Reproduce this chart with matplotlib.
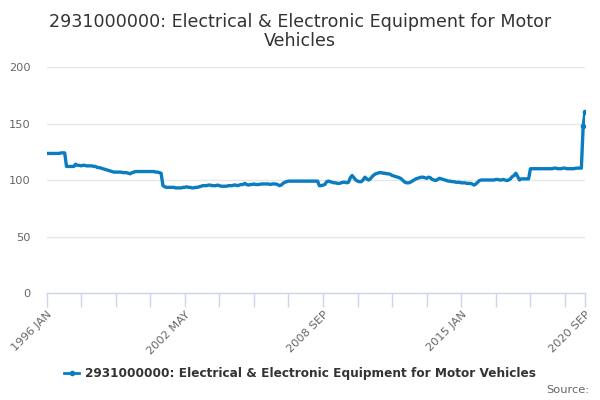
import matplotlib
matplotlib.use("Agg")
import matplotlib.pyplot as plt
from matplotlib.lines import Line2D

title_line1 = "2931000000: Electrical & Electronic Equipment for Motor"
title_line2 = "Vehicles"
series_name = "2931000000: Electrical & Electronic Equipment for Motor Vehicles"
start_year = 1996
month_names = ["JAN", "FEB", "MAR", "APR", "MAY", "JUN", "JUL", "AUG", "SEP", "OCT", "NOV", "DEC"]

values = [
    # 1996
    123.5, 123.5, 123.5, 123.5, 123.5, 123.5, 123.5, 123.5, 124, 124, 124, 112,
    # 1997
    112, 112, 112, 112, 114, 113, 113, 112.5, 113, 113, 112.5, 112.5,
    # 1998
    112.5, 112.5, 112, 112, 111, 111, 110.5, 110, 109.5, 109, 108.5, 108,
    # 1999
    107.5, 107, 107, 107, 107, 107, 106.5, 106.5, 106.5, 106, 105.5, 106.5,
    # 2000
    107, 107.5, 107.5, 107.5, 107.5, 107.5, 107.5, 107.5, 107.5, 107.5, 107.5, 107.5,
    # 2001
    107, 107, 106.5, 106, 95, 94, 93.5, 93.5, 93.5, 93.5, 93.5, 93,
    # 2002
    93, 93, 93, 93.5, 93.5, 94, 93.5, 93.5, 93, 93, 93.5, 93.5,
    # 2003
    94, 94.5, 95, 95, 95, 95.5, 95.5, 95, 95, 95, 95.5, 95,
    # 2004
    94.5, 94.5, 94.5, 94.5, 95, 95, 95, 95.5, 95.5, 95, 95.5, 96,
    # 2005
    96, 97, 96, 95.5, 96, 96, 96.5, 96, 96, 96, 96.5, 96.5,
    # 2006
    96.5, 96.5, 96.5, 96, 96.5, 96.5, 96.5, 96, 95, 95.5, 97, 98,
    # 2007
    98.5, 99, 99, 99, 99, 99, 99, 99, 99, 99, 99, 99,
    # 2008
    99, 99, 99, 99, 99, 99, 95, 95, 95.5, 96, 98.5, 99,
    # 2009
    98.5, 98, 97.5, 97.5, 97, 97, 97.5, 98, 98, 97.5, 98, 102,
    # 2010
    104, 102, 100, 99, 98.5, 98.5, 100, 102.5, 101, 100, 101, 103,
    # 2011
    104.5, 105.5, 106, 106.5, 106.5, 106, 106, 105.5, 105.5, 105, 104, 103.5,
    # 2012
    103, 102.5, 102, 101, 99.5, 98, 97.5, 97.5, 98, 99, 100, 101,
    # 2013
    101.5, 102, 102.5, 102.5, 102, 101.5, 102.5, 102, 100.5, 100, 99.5, 100.5,
    # 2014
    101.5, 101, 100.5, 100, 99.5, 99, 99, 98.5, 98.5, 98, 98, 98,
    # 2015
    97.5, 97.5, 97.5, 97, 97, 97, 96.5, 95.5, 96.5, 98, 99.5, 100,
    # 2016
    100, 100, 100, 100, 100, 100, 100, 100.5, 100.5, 100, 100, 100.5,
    # 2017
    100, 99.5, 100, 101, 103, 104, 106, 103, 100, 101, 101, 101,
    # 2018
    101, 101, 110, 110, 110, 110, 110, 110, 110, 110, 110, 110,
    # 2019
    110, 110, 110, 110.5, 110.5, 110, 110, 110, 110.5, 110.5, 110, 110,
    # 2020
    110, 110, 110, 110.5, 110.5, 110.5, 110.5, 148, 160,
]

y_ticks = [0, 50, 100, 150, 200]
label_step = 38
minor_step = 19

n = len(values)
x = list(range(n))
labels_all = [f"{start_year + i // 12} {month_names[i % 12]}" for i in x]

fig = plt.figure(figsize=(6, 4), dpi=100)
W, H = 600, 400
left, right, top, bottom = 46.5, 585, 67, 293
ax = fig.add_axes([left / W, 1 - bottom / H, (right - left) / W, (bottom - top) / H])

color = "#0a7cc1"
ax.plot(x, values, color=color, lw=2.4, solid_joinstyle="round", zorder=3)
ax.plot(x[-2:], values[-2:], 'o', color=color, ms=3, zorder=4)

ax.set_xlim(0, n - 1)
ax.set_ylim(0, 200)
ax.set_yticks(y_ticks)
ax.yaxis.grid(True, color="#e6e6e6", lw=1)
ax.set_axisbelow(True)
for s in ["top", "right", "left"]:
    ax.spines[s].set_visible(False)
ax.spines["bottom"].set_color("#ccd6eb")
ax.spines["bottom"].set_linewidth(1)
ax.tick_params(axis="y", length=0, labelsize=8.2, labelcolor="#666666", pad=11.5)

minor_ticks = list(range(0, n, minor_step)) + [n - 1]
ax.set_xticks(minor_ticks, minor=True)
ax.tick_params(axis="x", which="minor", length=10, color="#ccd6eb", width=1)
major = list(range(0, n - label_step // 2, label_step * 2)) + [n - 1]
ax.set_xticks(major)
ax.set_xticklabels([labels_all[i] for i in major], rotation=45, ha="right",
                   rotation_mode="anchor", fontsize=8.2, color="#666666")
ax.tick_params(axis="x", which="major", length=10, color="#ccd6eb", width=1, pad=2)

fig.text(0.5, 1 - 22 / H, title_line1, ha="center", va="center", fontsize=12.6, color="#333333")
fig.text(0.5, 1 - 41 / H, title_line2, ha="center", va="center", fontsize=12.6, color="#333333")

# legend
fig.lines.append(Line2D([64 / W, 79 / W], [1 - 373 / H, 1 - 373 / H], color=color, lw=2,
                        transform=fig.transFigure))
fig.lines.append(Line2D([71.5 / W], [1 - 373 / H], color=color, marker="o", ms=3,
                        transform=fig.transFigure))
fig.text(85.5 / W, 1 - 373 / H, series_name, ha="left", va="center",
         fontsize=8.75, fontweight="bold", color="#333333")
fig.text(589 / W, 1 - 390 / H, "Source:", ha="right", va="center", fontsize=8.2, color="#666666")

fig.savefig("out.png", dpi=100)
